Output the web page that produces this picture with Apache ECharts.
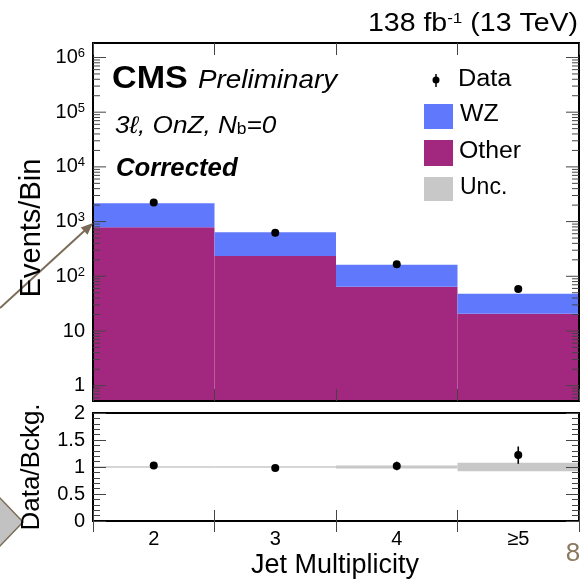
<!DOCTYPE html>
<html>
<head>
<meta charset="utf-8">
<script src="https://cdn.jsdelivr.net/npm/echarts@6/dist/echarts.min.js"></script>
<style>
  html, body { margin: 0; padding: 0; background: #fff; }
  #chart { width: 587px; height: 585px; }
</style>
</head>
<body>
<div id="chart"></div>
<script>
// Jet multiplicity bins
const categories = ['2', '3', '4', '\u22655'];
// Stacked background predictions (events per bin)
const wzEvents = [1370, 402, 98, 27.3];
const otherEvents = [790, 235, 64.5, 20.7];
// Observed data and its statistical error
const dataEvents = [2225, 624, 166, 58.6];
const dataErrors = [47, 25, 13, 7.7];
// Data / background ratio panel
const ratioValues = [1.03, 0.98, 1.02, 1.22];
const ratioErrors = [0.02, 0.04, 0.08, 0.16];
const uncHalfWidth = [0.012, 0.012, 0.03, 0.08];
// Log axis decades and their labels
const logTickValues = [1, 10, 100, 1000, 10000, 100000, 1000000];
const logTickLabels = ['1', '10', '10{s|2}', '10{s|3}', '10{s|4}', '10{s|5}', '10{s|6}'];

const Y_MIN = 0.525, Y_MAX = 1.84e6;
const FONT = '"Liberation Sans", Arial, Helvetica, "DejaVu Sans", sans-serif';
const WZ_COLOR = '#6078fc';
const OTHER_COLOR = '#a2287f';
const UNC_COLOR = '#c8c8c8';
const TICK_COLOR = '#444';

// Major and minor tick rows for the log axis: [x, value, isMajor, labelIndex]
const logTickRows = logTickValues.map((v, i) => [0, v, 1, i]);
for (let e = -1; e <= 6; e++) {
  for (let m = 2; m <= 9; m++) {
    const v = m * Math.pow(10, e);
    if (v > Y_MIN && v < Y_MAX) logTickRows.push([0, v, 0, -1]);
  }
}

function bandWidth(params) {
  return params.coordSys.width / categories.length;
}

// Filled histogram block between low and high
function renderBlock(color) {
  return function (params, api) {
    const x = api.value(0);
    const lo = api.coord([x, api.value(1)]);
    const hi = api.coord([x, api.value(2)]);
    const w = bandWidth(params);
    return {
      type: 'rect',
      shape: { x: lo[0] - w / 2, y: hi[1], width: w, height: lo[1] - hi[1] },
      style: { fill: color }
    };
  };
}

// Marker with vertical error bar
function renderPoint(params, api) {
  const x = api.value(0), v = api.value(1), err = api.value(2);
  const c = api.coord([x, v]);
  const top = api.coord([x, v + err]);
  const bot = api.coord([x, v - err]);
  return {
    type: 'group',
    children: [
      { type: 'line', shape: { x1: c[0], y1: top[1], x2: c[0], y2: bot[1] }, style: { stroke: '#000', lineWidth: 1.6 } },
      { type: 'circle', shape: { cx: c[0], cy: c[1], r: 4 }, style: { fill: '#000' } }
    ]
  };
}

// Ticks on both sides of the log panel, with labels on the left
function renderLogTick(params, api) {
  const v = api.value(1);
  const major = api.value(2) === 1;
  const cs = params.coordSys;
  const y = api.coord([0, v])[1];
  const len = major ? 13 : 7;
  const children = [
    { type: 'line', shape: { x1: cs.x, y1: y, x2: cs.x + len, y2: y }, style: { stroke: TICK_COLOR, lineWidth: 1 } },
    { type: 'line', shape: { x1: cs.x + cs.width - len, y1: y, x2: cs.x + cs.width, y2: y }, style: { stroke: TICK_COLOR, lineWidth: 1 } }
  ];
  if (major) {
    children.push({
      type: 'text',
      style: {
        x: cs.x - 8, y: y, text: logTickLabels[api.value(3)],
        align: 'right', verticalAlign: 'middle',
        fontSize: 20, fontFamily: FONT, fill: '#000',
        rich: { s: { fontSize: 13, fontFamily: FONT, verticalAlign: 'top', padding: [0, 0, 8, 0] } }
      }
    });
  }
  return { type: 'group', children: children };
}

// Plain text placed at an anchor, optionally widened horizontally
function label(x, y, text, opts) {
  const o = opts || {};
  return {
    type: 'text', x: x, y: y, z: 20,
    scaleX: o.scaleX || 1,
    rotation: o.rotation || 0,
    style: {
      x: 0, y: 0, text: text,
      align: o.align || 'left', verticalAlign: 'middle',
      fontSize: o.fontSize || 23, fontFamily: FONT,
      fontWeight: o.fontWeight || 'normal', fontStyle: o.fontStyle || 'normal',
      fill: o.fill || '#000', rich: o.rich
    }
  };
}

const chart = echarts.init(document.getElementById('chart'), null, { renderer: 'canvas' });

const tickStyle = { show: true, inside: true, alignWithLabel: false, interval: 0, lineStyle: { color: TICK_COLOR, width: 1 } };

const option = {
  backgroundColor: '#fff',
  animation: false,
  grid: [
    { left: 93, right: 8, top: 43, height: 358, show: true, borderColor: '#000', borderWidth: 2, backgroundColor: 'transparent', z: 5 },
    { left: 93, right: 8, top: 413, height: 108, show: true, borderColor: '#000', borderWidth: 2, backgroundColor: 'transparent', z: 5 }
  ],
  xAxis: [
    { type: 'category', gridIndex: 0, data: categories, position: 'bottom', z: 6,
      axisLine: { show: false }, axisLabel: { show: false }, axisTick: Object.assign({ length: 12 }, tickStyle), splitLine: { show: false } },
    { type: 'category', gridIndex: 0, data: categories, position: 'top', z: 6,
      axisLine: { show: false }, axisLabel: { show: false }, axisTick: Object.assign({ length: 12 }, tickStyle), splitLine: { show: false } },
    { type: 'category', gridIndex: 1, data: categories, position: 'bottom', z: 6,
      axisLine: { show: false }, axisTick: Object.assign({ length: 11 }, tickStyle), splitLine: { show: false },
      axisLabel: { show: true, interval: 0, margin: 8, fontSize: 20, fontFamily: FONT, color: '#000' } },
    { type: 'category', gridIndex: 1, data: categories, position: 'top', z: 6,
      axisLine: { show: false }, axisLabel: { show: false }, axisTick: Object.assign({ length: 11 }, tickStyle), splitLine: { show: false } }
  ],
  yAxis: [
    { type: 'log', gridIndex: 0, min: Y_MIN, max: Y_MAX, logBase: 10,
      axisLine: { show: false }, axisTick: { show: false }, axisLabel: { show: false }, splitLine: { show: false } },
    { type: 'value', gridIndex: 1, min: 0, max: 2, interval: 0.5, position: 'left', z: 6,
      axisLine: { show: false }, splitLine: { show: false },
      axisTick: { show: true, inside: true, length: 13, lineStyle: { color: TICK_COLOR, width: 1 } },
      minorTick: { show: true, splitNumber: 5, length: 7, lineStyle: { color: TICK_COLOR, width: 1 } },
      axisLabel: { show: true, margin: 8, fontSize: 20, fontFamily: FONT, color: '#000', showMinLabel: true, showMaxLabel: true } },
    { type: 'value', gridIndex: 1, min: 0, max: 2, interval: 0.5, position: 'right', z: 6,
      axisLine: { show: false }, splitLine: { show: false }, axisLabel: { show: false },
      axisTick: { show: true, inside: true, length: 13, lineStyle: { color: TICK_COLOR, width: 1 } },
      minorTick: { show: true, splitNumber: 5, length: 7, lineStyle: { color: TICK_COLOR, width: 1 } } }
  ],
  series: [
    { name: 'Other', type: 'custom', xAxisIndex: 0, yAxisIndex: 0, z: 2,
      renderItem: renderBlock(OTHER_COLOR), encode: { x: 0, y: [1, 2] },
      data: otherEvents.map((v, i) => [i, Y_MIN, v]) },
    { name: 'WZ', type: 'custom', xAxisIndex: 0, yAxisIndex: 0, z: 2,
      renderItem: renderBlock(WZ_COLOR), encode: { x: 0, y: [1, 2] },
      data: wzEvents.map((v, i) => [i, otherEvents[i], otherEvents[i] + v]) },
    { name: 'Data', type: 'custom', xAxisIndex: 0, yAxisIndex: 0, z: 8,
      renderItem: renderPoint, encode: { x: 0, y: 1 },
      data: dataEvents.map((v, i) => [i, v, dataErrors[i]]) },
    { name: 'logTicks', type: 'custom', xAxisIndex: 0, yAxisIndex: 0, z: 7, clip: false,
      renderItem: renderLogTick, encode: { x: 0, y: 1 }, data: logTickRows },
    { name: 'Unc.', type: 'custom', xAxisIndex: 2, yAxisIndex: 1, z: 2,
      renderItem: renderBlock(UNC_COLOR), encode: { x: 0, y: [1, 2] },
      data: uncHalfWidth.map((u, i) => [i, 1 - u, 1 + u]) },
    { name: 'Ratio', type: 'custom', xAxisIndex: 2, yAxisIndex: 1, z: 8,
      renderItem: renderPoint, encode: { x: 0, y: 1 },
      data: ratioValues.map((v, i) => [i, v, ratioErrors[i]]) }
  ],
  graphic: [
    // Slide decorations: pointer arrow, side marker and page number
    { type: 'line', shape: { x1: 0, y1: 308, x2: 84.5, y2: 230.8 }, style: { stroke: '#796b56', lineWidth: 2 }, z: 20 },
    { type: 'polygon', shape: { points: [[93, 223], [87.5, 234.8], [80.7, 227.4]] }, style: { fill: '#796b56' }, z: 20 },
    { type: 'polygon', shape: { points: [[23, 522], [0, 498], [-23, 522], [0, 546]] }, style: { fill: '#c2c2c2', stroke: '#7a6c55', lineWidth: 1.5 }, z: 20 },
    label(573, 554, '8', { align: 'center', fontSize: 26, fill: '#8a7a5e' }),

    // Luminosity / energy
    label(578, 24, '138 fb{s|-1} (13 TeV)', { align: 'right', fontSize: 25, scaleX: 1.14,
      rich: { s: { fontSize: 15, fontFamily: FONT, verticalAlign: 'top', padding: [0, 0, 10, 0] } } }),
    // Experiment and selection labels
    label(112, 79, 'CMS', { fontSize: 31, fontWeight: 'bold', scaleX: 1.1 }),
    label(198, 81, 'Preliminary', { fontSize: 26, fontStyle: 'italic', scaleX: 1.07 }),
    label(115, 126, '3\u2113, OnZ, N{b|b}=0', { fontSize: 24, fontStyle: 'italic', scaleX: 1.09,
      rich: { b: { fontSize: 16, fontStyle: 'normal', fontFamily: FONT, verticalAlign: 'bottom', padding: [8, 0, 0, 0] } } }),
    label(116, 169, 'Corrected', { fontSize: 25, fontStyle: 'italic', fontWeight: 'bold', scaleX: 1.03 }),

    // Legend
    { type: 'line', shape: { x1: 436, y1: 74, x2: 436, y2: 87 }, style: { stroke: '#000', lineWidth: 1.5 }, z: 20 },
    { type: 'circle', shape: { cx: 436, cy: 80, r: 3.5 }, style: { fill: '#000' }, z: 20 },
    label(458, 80, 'Data', { fontSize: 23, scaleX: 1.1 }),
    { type: 'rect', shape: { x: 424, y: 104, width: 29, height: 25 }, style: { fill: WZ_COLOR }, z: 20 },
    label(460, 115, 'WZ', { fontSize: 23, scaleX: 1.08 }),
    { type: 'rect', shape: { x: 424, y: 140, width: 29, height: 26 }, style: { fill: OTHER_COLOR }, z: 20 },
    label(459, 152, 'Other', { fontSize: 23, scaleX: 1.08 }),
    { type: 'rect', shape: { x: 424, y: 177, width: 29, height: 24 }, style: { fill: UNC_COLOR }, z: 20 },
    label(460, 188, 'Unc.', { fontSize: 23 }),

    // Axis titles
    label(32, 228, 'Events/Bin', { align: 'center', fontSize: 29, rotation: Math.PI / 2 }),
    label(32, 467, 'Data/Bckg.', { align: 'center', fontSize: 26, rotation: Math.PI / 2 }),
    label(335, 566, 'Jet Multiplicity', { align: 'center', fontSize: 27 })
  ]
};

chart.setOption(option);
</script>
</body>
</html>
